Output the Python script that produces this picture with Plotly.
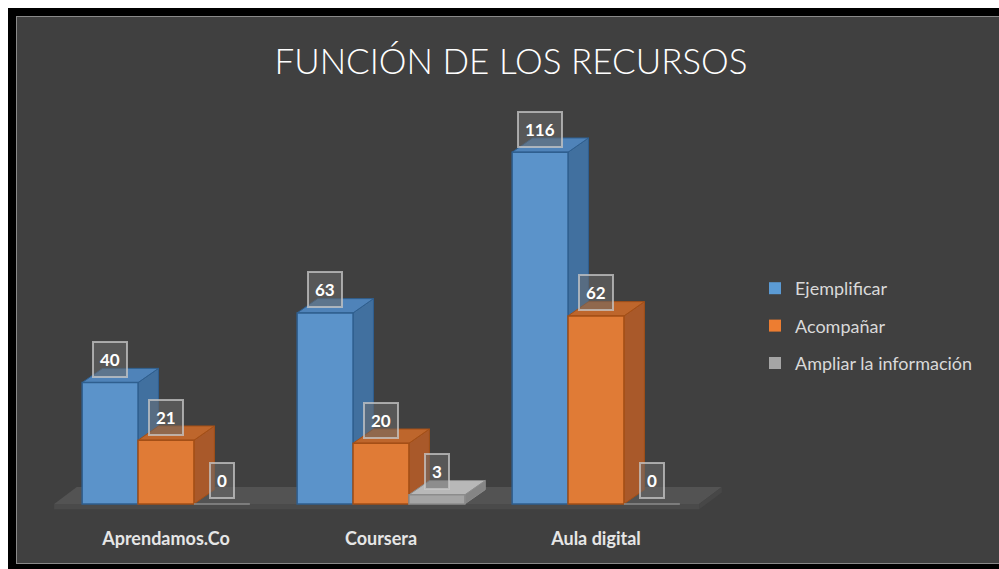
import plotly.graph_objects as go

# ---------------- data ----------------
categories = ["Aprendamos.Co", "Coursera", "Aula digital"]
series_names = ["Ejemplificar", "Acompañar", "Ampliar la información"]
ejemplificar = [40, 63, 116]
acompanar = [21, 20, 62]
ampliar = [0, 3, 0]
series_values = [ejemplificar, acompanar, ampliar]

# ---------------- styles ----------------
front_colors = ["#5B93CA", "#E07B36", "#A5A5A5"]
top_colors = ["#4F83B9", "#BE662C", "#B8B8B8"]
side_colors = ["#41709F", "#A9592A", "#858585"]
edge_colors = ["#2F5F8F", "#A44F16", "#8C8C8C"]
legend_colors = ["#5B9BD5", "#ED7D31", "#A5A5A5"]

# figure sits in the page after the 8px body margin
W, H = 991, 561
L, R, T, B = 29, 274, 126, 56
PW, PH = W - L - R, H - T - B
XR = [-0.6, 2.6]
YR = [-3, 122]

BARGAP = 0.22
nser = len(series_values)
bw = (1 - BARGAP) / nser
DX, DY = 0.095, 4.7          # 3D depth in data units
FDX, FDY = 0.105, 5.6        # floor depth

def px2paper_x(px):
    return (px - L) / PW

def py2paper_y(py):
    return (H - B - py) / PH

x_idx = list(range(len(categories)))

fig = go.Figure()
for s, (name, vals) in enumerate(zip(series_names, series_values)):
    fig.add_trace(go.Bar(
        x=x_idx, y=vals, name=name, offsetgroup=str(s),
        marker=dict(color=front_colors[s], line=dict(color=edge_colors[s], width=1.5)),
        legendgroup=name, showlegend=False,
    ))
    fig.add_trace(go.Bar(
        x=[None], y=[None], name=name, legendgroup=name, offsetgroup=str(s),
        marker=dict(color=legend_colors[s], line=dict(width=0)), showlegend=True,
    ))

shapes = []
n = len(categories)
fx0, fx1 = -0.52, n - 1 + 0.48
shapes.append(dict(type="path", xref="x", yref="y", layer="below",
                   path=f"M{fx0},0 L{fx1},0 L{fx1+FDX},{FDY} L{fx0+FDX},{FDY} Z",
                   fillcolor="#535353", line=dict(width=0)))
shapes.append(dict(type="path", xref="x", yref="y", layer="below",
                   path=f"M{fx0},0 L{fx1},0 L{fx1},-1.8 L{fx0},-1.8 Z",
                   fillcolor="#4A4A4A", line=dict(width=0)))
shapes.append(dict(type="path", xref="x", yref="y", layer="below",
                   path=f"M{fx1},0 L{fx1+FDX},{FDY} L{fx1+FDX},{FDY-1.8} L{fx1},-1.8 Z",
                   fillcolor="#474747", line=dict(width=0)))

annotations = []
for i in x_idx:
    for s in range(nser):
        v = series_values[s][i]
        c = i + (s - (nser - 1) / 2) * bw
        x0, x1 = c - bw / 2, c + bw / 2
        if v > 0:
            shapes.append(dict(type="path", xref="x", yref="y", layer="below",
                               path=f"M{x1},0 L{x1},{v} L{x1+DX},{v+DY} L{x1+DX},{DY} Z",
                               fillcolor=side_colors[s], line=dict(color=edge_colors[s], width=1)))
            shapes.append(dict(type="path", xref="x", yref="y", layer="below",
                               path=f"M{x0},{v} L{x1},{v} L{x1+DX},{v+DY} L{x0+DX},{v+DY} Z",
                               fillcolor=top_colors[s], line=dict(color=edge_colors[s], width=1)))
        annotations.append(dict(
            x=c, y=v, xref="x", yref="y", text=f"<b>{v}</b>", showarrow=False,
            yshift=23, font=dict(family="Lato", size=17, color="white"),
            bgcolor="rgba(105,105,105,0.55)", bordercolor="rgba(200,200,200,0.75)",
            borderwidth=2, borderpad=6,
        ))

def rect_px(x0, y0, x1, y1, color):
    return dict(type="rect", xref="paper", yref="paper", layer="above",
                x0=px2paper_x(x0), x1=px2paper_x(x1),
                y0=py2paper_y(y0), y1=py2paper_y(y1),
                fillcolor=color, line=dict(width=0))

shapes += [
    rect_px(0, 0, 8, H, "black"),
    rect_px(0, 0, W, 8, "black"),
    rect_px(0, 556, W, H, "black"),
    rect_px(8, 8, 9, 556, "#8A8A8A"),
    rect_px(8, 8, W, 9, "#8A8A8A"),
    rect_px(8, 555, W, 556, "#8A8A8A"),
]

fig.update_layout(
    width=W, height=H,
    margin=dict(l=L, r=R, t=T, b=B, pad=0),
    paper_bgcolor="#404040", plot_bgcolor="rgba(0,0,0,0)",
    barmode="group", bargap=BARGAP, bargroupgap=0,
    title=dict(text="FUNCIÓN DE LOS RECURSOS", x=503 / W, xanchor="center",
               y=1 - 54 / H, yanchor="middle",
               font=dict(family="Lato", size=35, color="white", weight=300)),
    xaxis=dict(range=XR, tickvals=x_idx, ticktext=categories, showgrid=False,
               zeroline=False, showline=False, ticks="outside", ticklen=9,
               tickcolor="rgba(0,0,0,0)",
               tickfont=dict(family="Lato", size=18, color="#E6E6E6", weight="bold")),
    yaxis=dict(range=YR, visible=False),
    legend=dict(x=px2paper_x(747), y=py2paper_y(262), xanchor="left", yanchor="top",
                font=dict(family="Lato", size=18, color="#D9D9D9"),
                traceorder="grouped", tracegroupgap=11, itemwidth=30,
                bgcolor="rgba(0,0,0,0)"),
    shapes=shapes,
    annotations=annotations,
    showlegend=True,
)

fig.write_html(
    "out.html",
    post_script=(
        "document.documentElement.style.overflow='hidden';"
        "document.body.style.overflow='hidden';"
        "document.body.style.margin='8px 0 0 8px';"
    ),
)
